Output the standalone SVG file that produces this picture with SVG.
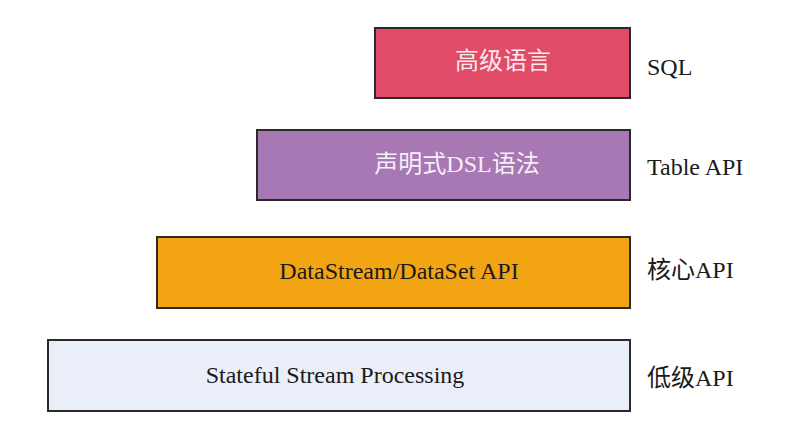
<svg xmlns="http://www.w3.org/2000/svg" width="790" height="426" viewBox="0 0 790 426">
<style>
.box{stroke:#2a2a2a;stroke-width:2}
.t{font-family:"Liberation Serif","Noto Sans CJK SC",serif;font-size:24px;text-anchor:middle;dominant-baseline:central}
.lbl{font-family:"Liberation Serif","Noto Sans CJK SC",serif;font-size:24px;fill:#1a1a1a;dominant-baseline:central}
</style>
<rect width="790" height="426" fill="#ffffff"/>
<g id="sql">
<rect class="box" x="375" y="28" width="255" height="70" fill="#e04b68"/>
<text class="t" x="503" y="61" fill="#fbe9ed">高级语言</text>
<text class="lbl" x="647" y="67">SQL</text>
</g>
<g id="table">
<rect class="box" x="257" y="130" width="373" height="70" fill="#a778b3"/>
<text class="t" x="457" y="164" fill="#f6eef8">声明式DSL语法</text>
<text class="lbl" x="647" y="167">Table API</text>
</g>
<g id="core">
<rect class="box" x="157" y="237" width="473" height="71" fill="#f2a413"/>
<text class="t" x="399" y="271" fill="#1a1a1a">DataStream/DataSet API</text>
<text class="lbl" x="647" y="270">核心API</text>
</g>
<g id="low">
<rect class="box" x="48" y="340" width="582" height="71" fill="#e9eef8"/>
<text class="t" x="335" y="375" fill="#1a1a1a">Stateful Stream Processing</text>
<text class="lbl" x="647" y="378">低级API</text>
</g>
<g id="connectors"></g>
</svg>
